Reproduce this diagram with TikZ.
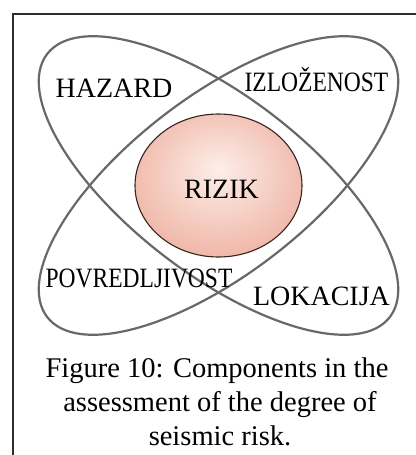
\documentclass[tikz,border=0pt]{standalone}
\usepackage{fontspec}
\setmainfont{Liberation Serif}
\usetikzlibrary{shapes.geometric}

\definecolor{lobegray}{RGB}{104,104,104}
\definecolor{frameink}{RGB}{45,45,45}
\definecolor{rizikin}{RGB}{253,238,233}
\definecolor{rizikout}{RGB}{228,136,112}
\definecolor{rizikline}{RGB}{55,35,30}
\pgfdeclareradialshading{rizikshade}{\pgfpoint{0bp}{6bp}}{color(0bp)=(rizikin); color(52bp)=(rizikout)}

\tikzset{
  lobe/.style={draw=lobegray, line width=2.2pt},
  tag/.style={font=\fontsize{28}{34}\selectfont, inner sep=0pt, anchor=base},
  captionline/.style={font=\fontsize{28.5}{34}\selectfont, inner sep=0pt, anchor=base},
}

\begin{document}
\begin{tikzpicture}[x=1pt,y=1pt]
  \useasboundingbox (0,0) rectangle (415,-455);

  % frame (only left and top edge are inside the picture)
  \draw[frameink, line width=1.6pt] (13,-470) -- (13,-14) -- (440,-14);

  \coordinate (mid) at (218.5,-185.5);

  % the two crossed loops
  \draw[lobe, rotate around={-37.5:(mid)}] (mid) ellipse (216 and 89);
  \draw[lobe, rotate around={37.5:(mid)}] (mid) ellipse (216 and 89);

  \node[ellipse, draw=rizikline, line width=1.1pt, shading=rizikshade,
        minimum width=167pt, minimum height=143pt, inner sep=0pt] (rizik) at (mid) {};
  \node[tag] (riziktxt) at (221.5,-198) {RIZIK};

  \node[tag] (hazard) at (114,-97) {HAZARD};
  \node[tag] (izlozenost) at (316.5,-91) {\scalebox{0.84}[1]{IZLOŽENOST}};
  \node[tag] (povredljivost) at (139,-287) {\scalebox{0.84}[1]{POVREDLJIVOST}};
  \node[tag] (lokacija) at (321.5,-305) {LOKACIJA};

  % caption
  \node[captionline] (cap1) at (217,-377) {Figure 10: Components in the};
  \node[captionline] (cap2) at (220,-411) {assessment of the degree of};
  \node[captionline] (cap3) at (220,-445) {seismic risk.};
\end{tikzpicture}
\end{document}
